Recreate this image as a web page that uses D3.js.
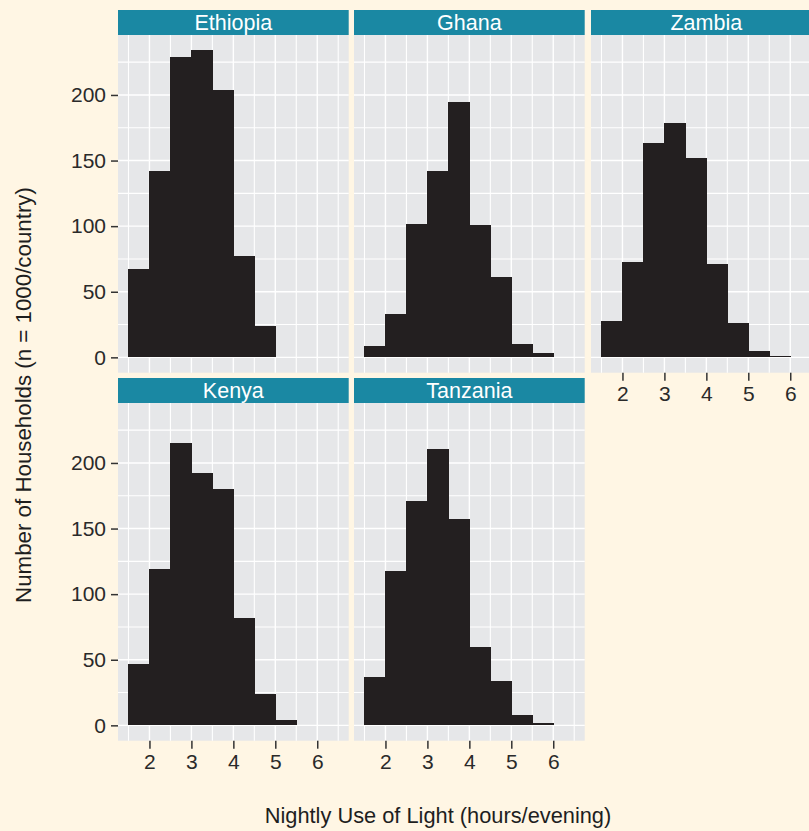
<!DOCTYPE html>
<html>
<head>
<meta charset="utf-8">
<script src="https://cdnjs.cloudflare.com/ajax/libs/d3/7.8.5/d3.min.js"></script>
<style>
	body { margin: 0; background: #fff6e4; }
	svg { display: block; font-family: "Liberation Sans", Arial, Helvetica, sans-serif; }
</style>
</head>
<body>
<div id="vizcontainer"></div>
<script>

// histogram counts, bins of 0.5 h starting at 1.5
var countries = ["Ethiopia", "Ghana", "Zambia", "Kenya", "Tanzania"];
var binStart = 1.5;
var binWidth = 0.5;
var ethiopia = [67, 142, 229, 234, 204, 77, 24];
var ghana = [9, 33, 102, 142, 195, 101, 61, 10, 3];
var zambia = [28, 73, 163, 179, 152, 71, 26, 5, 1];
var kenya = [47, 119, 215, 192, 180, 82, 24, 4];
var tanzania = [37, 118, 171, 211, 157, 60, 34, 8, 2];
var counts = [ethiopia, ghana, zambia, kenya, tanzania];

var xTicks = [2, 3, 4, 5, 6];
var xMinor = [1.5, 2.5, 3.5, 4.5, 5.5, 6.5];
var yTicks = [0, 50, 100, 150, 200];
var yMinor = [25, 75, 125, 175, 225];

var xTitle = "Nightly Use of Light (hours/evening)";
var yTitle = "Number of Households (n = 1000/country)";

var wwidth = 809;
var hheight = 831;
var colX = [118, 354, 591];
var rowY = [10, 378];
var stripH = 25;
var panelW = 230.7;
var panelH = 337.7;

var svg = d3.select("#vizcontainer").append("svg")
	.attr("width", wwidth)
	.attr("height", hheight);

svg.append("rect").attr("width", wwidth).attr("height", hheight).attr("fill", "#fff6e4");

// ggplot style 5% expansion
var maxCount = d3.max(counts, function(c){ return d3.max(c); });
var xlo = binStart, xhi = 6.5;
var x = d3.scaleLinear()
	.domain([xlo - 0.05 * (xhi - xlo), xhi + 0.05 * (xhi - xlo)])
	.range([0, panelW]);
var y = d3.scaleLinear()
	.domain([-0.05 * maxCount, maxCount * 1.05])
	.range([panelH, 0]);

for(var i = 0; i < countries.length; i++){
	var col = i % 3;
	var row = Math.floor(i / 3);
	drawPanel(i, colX[col], rowY[row], col == 0, (row == 1 || i == 2));
}

function drawPanel(i, px, py, showY, showX){
	var g = svg.append("g").attr("transform", "translate(" + px + "," + py + ")");

	// strip
	g.append("rect")
		.attr("width", panelW).attr("height", stripH)
		.attr("fill", "#1a88a3");
	g.append("text")
		.attr("x", panelW / 2).attr("y", 20)
		.attr("text-anchor", "middle")
		.attr("fill", "#ffffff")
		.attr("font-size", "21.5px")
		.text(countries[i]);

	var p = g.append("g").attr("transform", "translate(0," + stripH + ")");
	p.append("rect")
		.attr("width", panelW).attr("height", panelH)
		.attr("fill", "#e6e7e9");

	p.selectAll(".vminor").data(xMinor).enter().append("line")
		.attr("x1", function(d){ return x(d); }).attr("x2", function(d){ return x(d); })
		.attr("y1", 0).attr("y2", panelH)
		.attr("stroke", "#ffffff").attr("stroke-width", 1.1);
	p.selectAll(".hminor").data(yMinor).enter().append("line")
		.attr("y1", function(d){ return y(d); }).attr("y2", function(d){ return y(d); })
		.attr("x1", 0).attr("x2", panelW)
		.attr("stroke", "#ffffff").attr("stroke-width", 1.1);
	p.selectAll(".vmajor").data(xTicks).enter().append("line")
		.attr("x1", function(d){ return x(d); }).attr("x2", function(d){ return x(d); })
		.attr("y1", 0).attr("y2", panelH)
		.attr("stroke", "#ffffff").attr("stroke-width", 1.4);
	p.selectAll(".hmajor").data(yTicks).enter().append("line")
		.attr("y1", function(d){ return y(d); }).attr("y2", function(d){ return y(d); })
		.attr("x1", 0).attr("x2", panelW)
		.attr("stroke", "#ffffff").attr("stroke-width", 1.4);

	// bars
	p.selectAll(".bar").data(counts[i]).enter().append("rect")
		.attr("class", "bar")
		.attr("x", function(d, j){ return x(binStart + j * binWidth); })
		.attr("width", function(d, j){ return x(binStart + (j + 1) * binWidth) - x(binStart + j * binWidth) + 0.5; })
		.attr("y", function(d){ return y(d); })
		.attr("height", function(d){ return y(0) - y(d); })
		.attr("fill", "#231f20")
		.attr("shape-rendering", "crispEdges");

	if(showY){
		var ya = p.append("g")
			.call(d3.axisLeft(y).tickValues(yTicks).tickSize(7).tickPadding(5).tickFormat(d3.format("d")));
		ya.select(".domain").remove();
		ya.selectAll("line").attr("stroke", "#333333").attr("stroke-width", 1.5);
		ya.selectAll("text").attr("fill", "#2a2a2a").attr("font-size", "21px")
			.attr("font-family", null);
	}
	if(showX){
		var xa = p.append("g").attr("transform", "translate(0," + panelH + ")")
			.call(d3.axisBottom(x).tickValues(xTicks).tickSize(8).tickPadding(5).tickFormat(d3.format("d")));
		xa.select(".domain").remove();
		xa.selectAll("line").attr("stroke", "#333333").attr("stroke-width", 1.5);
		xa.selectAll("text").attr("fill", "#2a2a2a").attr("font-size", "21px")
			.attr("font-family", null);
	}
}

// axis titles
svg.append("text")
	.attr("x", 438).attr("y", 823)
	.attr("text-anchor", "middle")
	.attr("fill", "#1e1e1e")
	.attr("font-size", "21.8px")
	.text(xTitle);

svg.append("text")
	.attr("transform", "translate(31,395) rotate(-90)")
	.attr("text-anchor", "middle")
	.attr("fill", "#1e1e1e")
	.attr("font-size", "22.3px")
	.text(yTitle);

</script>
</body>
</html>
